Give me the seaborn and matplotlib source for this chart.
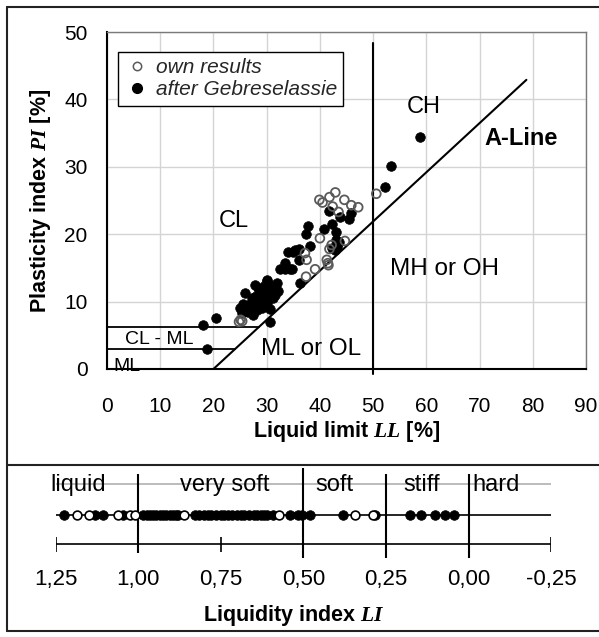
import numpy as np
import pandas as pd
import matplotlib
matplotlib.use("Agg")
import matplotlib.pyplot as plt
import seaborn as sns
from matplotlib.lines import Line2D

# ---------------- data ----------------
own_LL = [50.6, 39.9, 40.5, 41.8, 42.9, 44.6, 45.9, 47.2, 42.4, 43.5, 40.0, 44.7,
          41.8, 42.2, 37.2, 41.3, 41.6, 39.1, 37.4, 25.1, 25.4, 24.8, 37.5, 41.5]
own_PI = [26.0, 25.1, 24.7, 25.5, 26.2, 25.1, 24.3, 24.0, 24.1, 23.3, 19.4, 19.0,
          17.8, 18.4, 17.2, 16.2, 15.4, 14.8, 13.7, 7.3, 7.1, 7.0, 16.2, 15.7]

geb_LL = [58.8, 53.4, 52.3, 41.8, 43.7, 45.5, 45.9, 37.8, 37.4, 40.8, 42.2, 43.0,
          43.5, 42.2, 42.9, 38.2, 36.0, 35.0, 36.1, 34.7, 43.0, 43.2, 36.3, 18.1,
          20.5, 18.7, 30.6, 25.0, 25.6, 25.9, 26.9, 27.8, 27.8, 28.8, 29.1, 30.0,
          30.3, 30.6, 31.6, 32.2, 29.7, 32.5, 33.5, 34.4, 33.5, 35.3, 34.1, 28.3,
          29.5, 30.8, 27.2, 28.0, 29.0, 31.2, 26.5, 25.3, 27.5, 30.0, 31.5, 28.5,
          31.9, 30.0, 25.3, 26.3, 28.1, 29.1]
geb_PI = [34.4, 30.1, 27.0, 23.4, 22.6, 22.2, 23.2, 21.2, 20.1, 20.7, 21.5, 20.3,
          18.9, 17.9, 17.7, 18.2, 17.8, 17.4, 16.2, 14.9, 19.1, 18.1, 12.7, 6.5,
          7.6, 2.9, 6.9, 9.0, 9.7, 11.3, 9.7, 12.5, 8.8, 11.2, 10.0, 13.0,
          11.7, 8.9, 12.5, 11.5, 10.5, 14.9, 14.8, 14.9, 15.8, 17.6, 17.4, 12.0,
          12.3, 12.2, 10.5, 10.8, 9.3, 10.6, 8.5, 8.3, 8.0, 9.8, 11.0, 9.7,
          12.7, 13.2, 8.8, 8.8, 8.8, 9.0]

# A-line and boundary lines of the plasticity chart
aline_LL = [20.0, 78.8]
aline_PI = [0.0, 42.9]
ll50_PI = [-0.7, 48.4]
clml_PI = [6.2, 2.9]            # upper / lower CL-ML limits
clml_LL_end = [28.5, 24.0]      # where they meet the A-line

x_ticks = [0, 10, 20, 30, 40, 50, 60, 70, 80, 90]
y_ticks = [0, 10, 20, 30, 40, 50]

# liquidity index strip
LI_geb = [1.224, 1.131, 1.106, 1.045, 0.985, 0.975, 0.965, 0.955, 0.945, 0.935,
          0.925, 0.915, 0.905, 0.895, 0.885, 0.879, 0.828, 0.815, 0.800, 0.790,
          0.780, 0.765, 0.750, 0.740, 0.730, 0.715, 0.700, 0.690, 0.680, 0.665,
          0.650, 0.640, 0.630, 0.620, 0.611, 0.593, 0.541, 0.516, 0.505, 0.480,
          0.381, 0.284, 0.177, 0.143, 0.102, 0.073, 0.044]
LI_own = [1.186, 1.150, 1.061, 1.025, 1.010, 0.862, 0.573, 0.344, 0.289]
LI_ticks = [1.25, 1.00, 0.75, 0.50, 0.25, 0.00, -0.25]
LI_ticklabels = ["1,25", "1,00", "0,75", "0,50", "0,25", "0,00", "-0,25"]
LI_bounds = [1.00, 0.50, 0.25, 0.00]
LI_minor = [1.25, 0.75, -0.25]
LI_states = ["liquid", "very soft", "soft", "stiff", "hard"]
LI_state_pos = [1.182, 0.739, 0.405, 0.142, -0.083]

# ---------------- style ----------------
sns.set_theme(style="white")
plt.rcParams["font.family"] = ["Liberation Sans", "DejaVu Sans"]
plt.rcParams["mathtext.fontset"] = "custom"
plt.rcParams["mathtext.it"] = "Liberation Serif:italic:bold"
plt.rcParams["mathtext.rm"] = "Liberation Sans:bold"

W, H = 599, 637
fig = plt.figure(figsize=(W / 100, H / 100), dpi=100)


def px(l, t, r, b):
    return [l / W, 1 - b / H, (r - l) / W, (b - t) / H]


# ---------------- plasticity chart ----------------
ax = fig.add_axes(px(107, 32, 586, 369))
ax.set_xlim(0, 90)
ax.set_ylim(0, 50)
ax.set_xticks(x_ticks)
ax.set_yticks(y_ticks)
ax.grid(True, color="#d4d4d4", lw=1.0)
ax.set_axisbelow(True)
for s in ["top", "right"]:
    ax.spines[s].set_color("#7a7a7a")
    ax.spines[s].set_linewidth(1.0)
for s in ["left", "bottom"]:
    ax.spines[s].set_color("black")
    ax.spines[s].set_linewidth(1.5)
ax.tick_params(axis="both", direction="in", length=6, width=1.5, color="black",
               labelsize=15, labelcolor="black")
ax.tick_params(axis="x", pad=20)
ax.tick_params(axis="y", pad=14)

own_df = pd.DataFrame({"LL": own_LL, "PI": own_PI})
geb_df = pd.DataFrame({"LL": geb_LL, "PI": geb_PI})
sns.scatterplot(data=geb_df, x="LL", y="PI", ax=ax, color="black", s=48,
                edgecolor="black", linewidth=0.5, zorder=3)
sns.scatterplot(data=own_df, x="LL", y="PI", ax=ax, color="none", s=40,
                edgecolor="#5a5a5a", linewidth=1.3, zorder=4)

ax.plot(aline_LL, aline_PI, color="black", lw=1.5, zorder=2)
ax.plot([50, 50], ll50_PI, color="black", lw=1.5, zorder=2, clip_on=False)
for p, e in zip(clml_PI, clml_LL_end):
    ax.plot([0, e], [p, p], color="black", lw=1.3, zorder=2)

txt = dict(color="black", ha="center", va="center")
ax.text(23.8, 21.9, "CL", fontsize=17, **txt)
ax.text(59.5, 38.9, "CH", fontsize=17, **txt)
ax.text(77.8, 34.2, "A-Line", fontsize=17, fontweight="bold", **txt)
ax.text(63.5, 14.9, "MH or OH", fontsize=17.5, **txt)
ax.text(38.3, 2.9, "ML or OL", fontsize=17.5, **txt)
ax.text(9.9, 4.35, "CL - ML", fontsize=14, **txt)
ax.text(3.7, 0.3, "ML", fontsize=14, **txt)

ax.set_xlabel("Liquid limit $LL$ [%]", fontsize=15.5, fontweight="bold",
              color="black", labelpad=2)
ax.set_ylabel("Plasticity index $PI$ [%]", fontsize=15.5, fontweight="bold",
              color="black", labelpad=8)

handles = [
    Line2D([], [], ls="none", marker="o", markersize=6, markerfacecolor="white",
           markeredgecolor="#5a5a5a", markeredgewidth=1.1),
    Line2D([], [], ls="none", marker="o", markersize=7, markerfacecolor="black",
           markeredgecolor="black"),
]
leg = ax.legend(handles, ["own results", "after Gebreselassie"],
                loc="upper left", bbox_to_anchor=(118 / W, 1 - 52 / H),
                bbox_transform=fig.transFigure, frameon=True, fancybox=False,
                borderaxespad=0, borderpad=0.3, labelspacing=0.15,
                handletextpad=0.3, handlelength=1.2,
                prop={"style": "italic", "size": 15})
leg.get_frame().set_edgecolor("black")
leg.get_frame().set_linewidth(1.0)
leg.get_frame().set_facecolor("white")
leg.get_frame().set_alpha(1)

# ---------------- liquidity index strip ----------------
ax2 = fig.add_axes(px(55.7, 465, 551.3, 632))
ax2.set_xlim(1.25, -0.25)
ax2.set_ylim(-117, 50)
ax2.axis("off")

ax2.plot([1.25, -0.25], [30.7, 30.7], color="#b0b0b0", lw=1.2, zorder=1)
ax2.plot([1.25, -0.25], [0, 0], color="black", lw=1.2, zorder=1)
ax2.plot([1.25, -0.25], [-29.3, -29.3], color="black", lw=1.2, zorder=1)
ax2.vlines(LI_minor, -37.3, -21.7, color="black", lw=1.2)
ax2.vlines(LI_bounds, [-38.3, -43.3, -43.3, -43.3], [40.7, 46.7, 40.7, 40.7],
           color="black", lw=1.5, zorder=2)

sns.scatterplot(x=LI_geb, y=np.zeros(len(LI_geb)), ax=ax2, color="black", s=48,
                edgecolor="black", linewidth=0.5, zorder=3, clip_on=False)
sns.scatterplot(x=LI_own, y=np.zeros(len(LI_own)), ax=ax2, color="white", s=40,
                edgecolor="black", linewidth=1.2, zorder=4, clip_on=False)

for lab, p in zip(LI_states, LI_state_pos):
    ax2.text(p, 30, lab, fontsize=17, color="black", ha="center", va="center",
             zorder=5)
for lab, p in zip(LI_ticklabels, LI_ticks):
    ax2.text(p, -65, lab, fontsize=16, color="black", ha="center", va="center")
ax2.text(0.53, -100, "Liquidity index $LI$", fontsize=15.5, fontweight="bold",
         color="black", ha="center", va="center")

# ---------------- frame ----------------
frame_kw = dict(color="#222222", lw=1.5, transform=fig.transFigure, clip_on=False)
fig.add_artist(Line2D([7 / W, 1.0], [1 - 7 / H, 1 - 7 / H], **frame_kw))
fig.add_artist(Line2D([7 / W, 7 / W], [1 - 7 / H, 1 - 631 / H], **frame_kw))
fig.add_artist(Line2D([7 / W, 1.0], [1 - 465 / H, 1 - 465 / H], **frame_kw))
fig.add_artist(Line2D([7 / W, 1.0], [1 - 631 / H, 1 - 631 / H], **frame_kw))

fig.savefig("out.png", dpi=100, facecolor="white")
